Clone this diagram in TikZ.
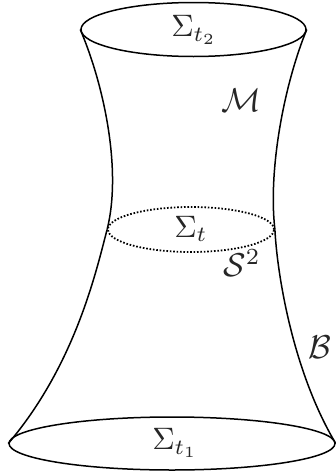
\documentclass[tikz,border=0pt]{standalone}
\usepackage{amssymb}
\usetikzlibrary{shapes.geometric}

\begin{document}
\begin{tikzpicture}[
        x=1pt,
        y=-1pt,
        slice/.style={
            ellipse,
            draw,
            inner sep=0pt,
            line width=1.5pt
        },
        side/.style={
            line width=1.5pt
        },
        sigma/.style={
            scale=3.1,
            text=black!85,
            inner sep=0pt
        },
        letter/.style={
            scale=3.3,
            text=black!85,
            inner sep=0pt
        }
    ]

        \useasboundingbox (0,0) rectangle (335,474);

        \node[slice, minimum width=225pt, minimum height=54pt] (top) at (193.5,29.5) {};
        \node[slice, line width=1.8pt, dash pattern=on 1.6pt off 1.8pt, minimum width=166pt, minimum height=45pt] (mid) at (191,229.5) {};
        \node[slice, minimum width=326pt, minimum height=53pt] (bottom) at (172,443.5) {};

        \node[sigma] (sigmatop) at (194,30) {$\Sigma_{t_2}$};
        \node[sigma] (sigmamid) at (191,229) {$\Sigma_t$};
        \node[sigma] (sigmabottom) at (175,443) {$\Sigma_{t_1}$};
        \node[letter] (bulk) at (241,100) {$\mathcal{M}$};
        \node[letter] (sphere) at (242,263) {$\mathcal{S}^2$};
        \node[letter] (boundary) at (320,347) {$\mathcal{B}$};

        \draw[side] (top.west) .. controls (104,85) and (122,170) .. (mid.west);
        \draw[side] (mid.west) .. controls (96,272) and (75,365) .. (bottom.west);
        \draw[side] (top.east) .. controls (284,85) and (268,170) .. (mid.east);
        \draw[side] (mid.east) .. controls (277,272) and (292,370) .. (bottom.east);

    \end{tikzpicture}
\end{document}
